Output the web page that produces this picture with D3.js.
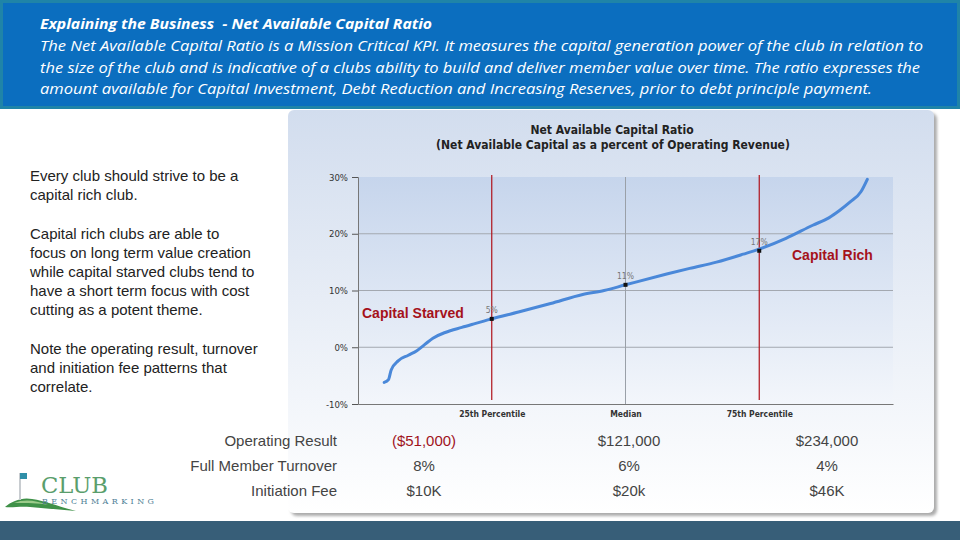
<!DOCTYPE html>
<html>
<head>
<meta charset="utf-8">
<script src="https://cdn.jsdelivr.net/npm/d3@7"></script>
<style>
  body { margin: 0; background: #fff; }
  svg { display: block; }
</style>
</head>
<body>
<svg id="slide" width="960" height="540"></svg>
<script>
// club percentile (x) vs net available capital ratio in % (y)
const percentile = [4.9, 5.7, 6.2, 7.5, 9.4, 11.0, 12.5, 14.0, 16.3, 19.4, 22, 25, 30, 36, 42, 46, 50, 57.7, 62, 67, 72, 75, 80, 85, 88, 90, 92, 94, 95.2];
const ratio = [-6.2, -5.7, -4.0, -2.4, -1.4, -0.6, 0.5, 1.6, 2.6, 3.5, 4.2, 5.0, 6.2, 7.7, 9.3, 10.0, 11.0, 12.9, 13.9, 15.0, 16.4, 17.3, 19.2, 21.5, 22.8, 24.1, 25.6, 27.4, 29.6];

const yTicks = [-10, 0, 10, 20, 30];
const markerPctl = [25, 50, 75];
const markerVal = [5, 11, 17];
const markerNames = ["25th Percentile", "Median", "75th Percentile"];

const rowLabels = ["Operating Result", "Full Member Turnover", "Initiation Fee"];
const colValues = [
  ["($51,000)", "8%", "$10K"],
  ["$121,000", "6%", "$20k"],
  ["$234,000", "4%", "$46K"]
];

const headerLines = [
  "The Net Available Capital Ratio is a Mission Critical KPI. It measures the capital generation power of the club in relation to",
  "the size of the club and is indicative of a clubs ability to build and deliver member value over time. The ratio expresses the",
  "amount available for Capital Investment, Debt Reduction and Increasing Reserves, prior to debt principle payment."
];
const leftParas = [
  ["Every club should strive to be a", "capital rich club."],
  ["Capital rich clubs are able to", "focus on long term value creation", "while capital starved clubs tend to", "have a short term focus with cost", "cutting as a potent theme."],
  ["Note the operating result, turnover", "and initiation fee patterns that", "correlate."]
];

const svg = d3.select("#slide");
const defs = svg.append("defs");

// gradients
let g1 = defs.append("linearGradient").attr("id", "panelGrad").attr("x1", 0).attr("y1", 0).attr("x2", 0).attr("y2", 1);
g1.append("stop").attr("offset", "0%").attr("stop-color", "#d2ddee");
g1.append("stop").attr("offset", "100%").attr("stop-color", "#ffffff");
let g2 = defs.append("linearGradient").attr("id", "plotGrad").attr("x1", 0).attr("y1", 0).attr("x2", 0).attr("y2", 1);
g2.append("stop").attr("offset", "0%").attr("stop-color", "#c6d5ec");
g2.append("stop").attr("offset", "100%").attr("stop-color", "#f3f6fb");
defs.append("filter").attr("id", "shadow").attr("x", "-5%").attr("y", "-5%").attr("width", "115%").attr("height", "115%")
  .append("feDropShadow").attr("dx", 3).attr("dy", 3).attr("stdDeviation", 1.5).attr("flood-color", "#888").attr("flood-opacity", 0.7);

// header band
svg.append("rect").attr("x", 1.5).attr("y", 1.5).attr("width", 957).attr("height", 106)
  .attr("fill", "#0b6ebf").attr("stroke", "#1f84a8").attr("stroke-width", 3);

const header = svg.append("g").attr("fill", "#fff").style("font-family", "'Open Sans', sans-serif")
  .style("font-style", "italic").style("font-size", "14px");
header.append("text").attr("x", 40).attr("y", 29).style("font-weight", "bold").style("white-space", "pre")
  .attr("textLength", 392).attr("lengthAdjust", "spacingAndGlyphs")
  .text("Explaining the Business  - Net Available Capital Ratio");
const lineLens = [883, 880, 832];
headerLines.forEach((t, i) => {
  header.append("text").attr("x", 40).attr("y", 51 + i * 21.5)
    .attr("textLength", lineLens[i]).attr("lengthAdjust", "spacingAndGlyphs").text(t);
});

// bottom bar
svg.append("rect").attr("x", 0).attr("y", 521).attr("width", 960).attr("height", 19).attr("fill", "#375e78");

// chart panel
svg.append("rect").attr("x", 288).attr("y", 110).attr("width", 646).attr("height", 403).attr("rx", 6)
  .attr("fill", "url(#panelGrad)").attr("filter", "url(#shadow)");

// left text
const left = svg.append("g").style("font-family", "'Liberation Sans', Arial, sans-serif")
  .style("font-size", "15px").attr("fill", "#222");
let ly = 181;
leftParas.forEach(p => {
  p.forEach(t => {
    left.append("text").attr("x", 30).attr("y", ly).text(t);
    ly += 19.2;
  });
  ly += 19.2;
});

// chart
const plot = { left: 358, right: 893, top: 177, bottom: 404 };
const x = d3.scaleLinear().domain([0, 100]).range([plot.left, plot.right]);
const y = d3.scaleLinear().domain([-10, 30]).range([plot.bottom, plot.top]);

const chart = svg.append("g").style("font-family", "'DejaVu Sans Condensed', 'DejaVu Sans', sans-serif");

chart.append("text").attr("x", 612).attr("y", 134).attr("text-anchor", "middle")
  .style("font-size", "12px").style("font-weight", "bold").attr("fill", "#222")
  .text("Net Available Capital Ratio");
chart.append("text").attr("x", 613).attr("y", 149).attr("text-anchor", "middle")
  .style("font-size", "12px").style("font-weight", "bold").attr("fill", "#222")
  .text("(Net Available Capital as a percent of Operating Revenue)");

chart.append("rect").attr("x", plot.left).attr("y", plot.top)
  .attr("width", plot.right - plot.left).attr("height", plot.bottom - plot.top).attr("fill", "url(#plotGrad)");

// horizontal grid
chart.append("g").selectAll("line").data(yTicks.filter(d => d > -10 && d < 30)).join("line")
  .attr("x1", plot.left).attr("x2", plot.right).attr("y1", d => y(d)).attr("y2", d => y(d))
  .attr("stroke", "#a3a8b0").attr("stroke-width", 1);

// y axis
const yAxis = chart.append("g").attr("transform", `translate(${plot.left},0)`)
  .call(d3.axisLeft(y).tickValues(yTicks).tickFormat(d => d + "%").tickSize(6).tickPadding(4));
yAxis.select(".domain").attr("stroke", "#777");
yAxis.selectAll(".tick line").attr("stroke", "#555");
yAxis.selectAll(".tick text").attr("fill", "#333").style("font-size", "9.5px")
  .style("font-family", "'DejaVu Sans Condensed', sans-serif");

// x axis
const xAxis = chart.append("g").attr("transform", `translate(0,${plot.bottom})`)
  .call(d3.axisBottom(x).tickValues(markerPctl).tickFormat((d, i) => markerNames[i]).tickSize(0).tickPadding(7));
xAxis.select(".domain").attr("stroke", "#777");
xAxis.selectAll(".tick text").attr("fill", "#333").style("font-size", "8.5px").style("font-weight", "bold")
  .style("font-family", "'DejaVu Sans Condensed', sans-serif");

// median grid line and percentile lines
chart.append("line").attr("x1", x(50)).attr("x2", x(50)).attr("y1", plot.top).attr("y2", plot.bottom)
  .attr("stroke", "#9aa0a8");
chart.append("g").selectAll("line").data([25, 75]).join("line")
  .attr("x1", d => x(d)).attr("x2", d => x(d)).attr("y1", plot.top - 2).attr("y2", plot.bottom - 4)
  .attr("stroke", "#b0121b").attr("stroke-width", 1.2);

// curve
const pts = percentile.map((p, i) => [p, ratio[i]]);
chart.append("path").datum(pts)
  .attr("fill", "none").attr("stroke", "#4a88d9").attr("stroke-width", 3).attr("stroke-linecap", "round")
  .attr("d", d3.line().x(d => x(d[0])).y(d => y(d[1])).curve(d3.curveMonotoneX));

// markers
const mk = chart.append("g");
markerPctl.forEach((p, i) => {
  mk.append("rect").attr("x", x(p) - 2).attr("y", y(markerVal[i]) - 2).attr("width", 4).attr("height", 4).attr("fill", "#111");
  mk.append("text").attr("x", x(p)).attr("y", y(markerVal[i]) - 6).attr("text-anchor", "middle")
    .style("font-size", "8.5px").attr("fill", "#777").text(markerVal[i] + "%");
});

// region labels
const red = svg.append("g").style("font-family", "'Liberation Sans', Arial, sans-serif")
  .style("font-size", "14px").style("font-weight", "bold").attr("fill", "#a5121b");
red.append("text").attr("x", 362).attr("y", 318).text("Capital Starved");
red.append("text").attr("x", 792).attr("y", 260).text("Capital Rich");

// table below
const tbl = svg.append("g").style("font-family", "'Liberation Sans', Arial, sans-serif").style("font-size", "15px");
const colX = [424, 629, 827];
rowLabels.forEach((lab, r) => {
  const by = 446 + r * 25;
  tbl.append("text").attr("x", 337).attr("y", by).attr("text-anchor", "end").attr("fill", "#444").text(lab);
  colValues.forEach((col, c) => {
    tbl.append("text").attr("x", colX[c]).attr("y", by).attr("text-anchor", "middle")
      .attr("fill", (c === 0 && r === 0) ? "#a0141c" : "#444").text(col[r]);
  });
});

// logo
const logo = svg.append("g");
logo.append("path").attr("d", "M5,507 C12,501 22,497 32,499 C46,501 60,507 76,511 C60,510 45,508 30,507 C20,506 12,508 5,507 Z")
  .attr("fill", "#3f9148");
logo.append("path").attr("d", "M14,503 C24,499 35,500 48,505 C38,503 28,503 14,503 Z").attr("fill", "#9ccc8a");
logo.append("line").attr("x1", 20).attr("x2", 20).attr("y1", 473).attr("y2", 500).attr("stroke", "#c8ccd0").attr("stroke-width", 2);
logo.append("rect").attr("x", 20).attr("y", 473).attr("width", 7).attr("height", 6).attr("fill", "#2f8fa8");
logo.append("text").attr("x", 41).attr("y", 493).style("font-family", "'DejaVu Serif', serif").style("font-size", "23px")
  .attr("fill", "#5a9e6c").attr("textLength", 67).attr("lengthAdjust", "spacingAndGlyphs").text("CLUB");
logo.append("text").attr("x", 42).attr("y", 504).style("font-family", "'DejaVu Serif', serif").style("font-size", "8px")
  .attr("fill", "#4f7f96").attr("textLength", 112).attr("lengthAdjust", "spacing").text("BENCHMARKING");
</script>
</body>
</html>
